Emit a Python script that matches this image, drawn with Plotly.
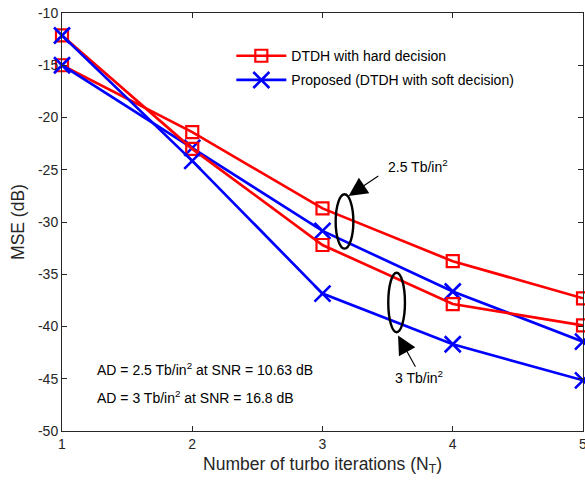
import plotly.graph_objects as go

# Turbo iteration counts
iterations = [1, 2, 3, 4, 5]

# MSE (dB) at AD = 2.5 Tb/in^2
hard_25 = [-15.0, -21.4, -28.7, -33.75, -37.3]
soft_25 = [-15.0, -22.9, -30.85, -36.65, -41.45]

# MSE (dB) at AD = 3 Tb/in^2
hard_3 = [-12.15, -23.0, -32.2, -37.85, -39.9]
soft_3 = [-12.15, -24.15, -36.85, -41.7, -45.15]

x_ticks = [1, 2, 3, 4, 5]
y_ticks = [-10, -15, -20, -25, -30, -35, -40, -45, -50]

RED = "#ff0000"
BLUE = "#0000ff"
AXIS = "#262626"
FONT = "Liberation Sans, Arial, sans-serif"

fig = go.Figure()

hard_marker = dict(symbol="square-open", size=12, color=RED, line=dict(width=2.2, color=RED))
soft_marker = dict(symbol="x-thin-open", size=16, color=BLUE, line=dict(width=2.6, color=BLUE))

fig.add_trace(go.Scatter(x=iterations, y=hard_25, mode="lines+markers",
                         name="DTDH with hard decision", legendgroup="hard",
                         line=dict(color=RED, width=2.7), marker=hard_marker))
fig.add_trace(go.Scatter(x=iterations, y=soft_25, mode="lines+markers",
                         name="Proposed (DTDH with soft decision)", legendgroup="soft",
                         line=dict(color=BLUE, width=2.7), marker=soft_marker))
fig.add_trace(go.Scatter(x=iterations, y=hard_3, mode="lines+markers",
                         showlegend=False, legendgroup="hard",
                         line=dict(color=RED, width=2.7), marker=hard_marker))
fig.add_trace(go.Scatter(x=iterations, y=soft_3, mode="lines+markers",
                         showlegend=False, legendgroup="soft",
                         line=dict(color=BLUE, width=2.7), marker=soft_marker))
fig.update_traces(cliponaxis=False)

# Ellipses grouping the curves of each areal density
ellipse_25 = dict(cx=3.169, cy=-29.95, rx=0.068, ry=2.6)
ellipse_3 = dict(cx=3.569, cy=-37.7, rx=0.064, ry=2.85)
for e in (ellipse_25, ellipse_3):
    fig.add_shape(type="circle", xref="x", yref="y",
                  x0=e["cx"] - e["rx"], x1=e["cx"] + e["rx"],
                  y0=e["cy"] - e["ry"], y1=e["cy"] + e["ry"],
                  line=dict(color="black", width=2.4))

# Arrows pointing to the ellipses
fig.add_annotation(x=3.2, y=-27.5, ax=3.44, ay=-25.5, xref="x", yref="y",
                   axref="x", ayref="y", text="", showarrow=True,
                   arrowhead=2, arrowsize=3.4, arrowwidth=1.1, arrowcolor="black")
fig.add_annotation(x=3.58, y=-40.85, ax=3.72, ay=-44.0, xref="x", yref="y",
                   axref="x", ayref="y", text="", showarrow=True,
                   arrowhead=2, arrowsize=3.4, arrowwidth=1.1, arrowcolor="black")

fig.add_annotation(x=3.49, y=-24.6, xref="x", yref="y", xanchor="left",
                   text="2.5 Tb/in<sup>2</sup>", showarrow=False,
                   font=dict(size=14, color="black", family=FONT))
fig.add_annotation(x=3.74, y=-44.85, xref="x", yref="y", xanchor="center",
                   text="3 Tb/in<sup>2</sup>", showarrow=False,
                   font=dict(size=14, color="black", family=FONT))

fig.add_annotation(x=1.255, y=-44.1, xref="x", yref="y", xanchor="left",
                   text="AD = 2.5 Tb/in<sup>2</sup> at SNR = 10.63 dB", showarrow=False,
                   font=dict(size=14, color="black", family=FONT))
fig.add_annotation(x=1.255, y=-46.7, xref="x", yref="y", xanchor="left",
                   text="AD = 3 Tb/in<sup>2</sup> at SNR = 16.8 dB", showarrow=False,
                   font=dict(size=14, color="black", family=FONT))

axis_common = dict(showgrid=False, zeroline=False, showline=True, mirror="ticks",
                   linecolor=AXIS, linewidth=1, ticks="inside", ticklen=5,
                   tickcolor=AXIS, ticklabeloverflow="allow", automargin=False,
                   tickfont=dict(size=14, color=AXIS, family=FONT))

fig.update_xaxes(range=[1, 5], tickvals=x_ticks, ticktext=[str(v) for v in x_ticks],
                 title=dict(text="Number of turbo iterations (N<sub>T</sub>)",
                            font=dict(size=17.5, color=AXIS, family=FONT), standoff=6),
                 **axis_common)
fig.update_yaxes(range=[-50, -10], tickvals=y_ticks, ticktext=[str(v) for v in y_ticks],
                 title=dict(text="MSE (dB)", font=dict(size=17.5, color=AXIS, family=FONT),
                            standoff=8),
                 **axis_common)

fig.update_layout(
    width=585, height=487,
    margin=dict(l=62, r=2, t=13, b=56),
    paper_bgcolor="white", plot_bgcolor="white",
    font=dict(family=FONT, color="black"),
    legend=dict(x=0.325, y=0.935, xanchor="left", yanchor="top",
                bgcolor="rgba(255,255,255,0)", borderwidth=0,
                font=dict(size=14, color="black", family=FONT),
                itemwidth=50, traceorder="grouped", tracegroupgap=3),
    showlegend=True,
)

fig.write_html("out.html")
